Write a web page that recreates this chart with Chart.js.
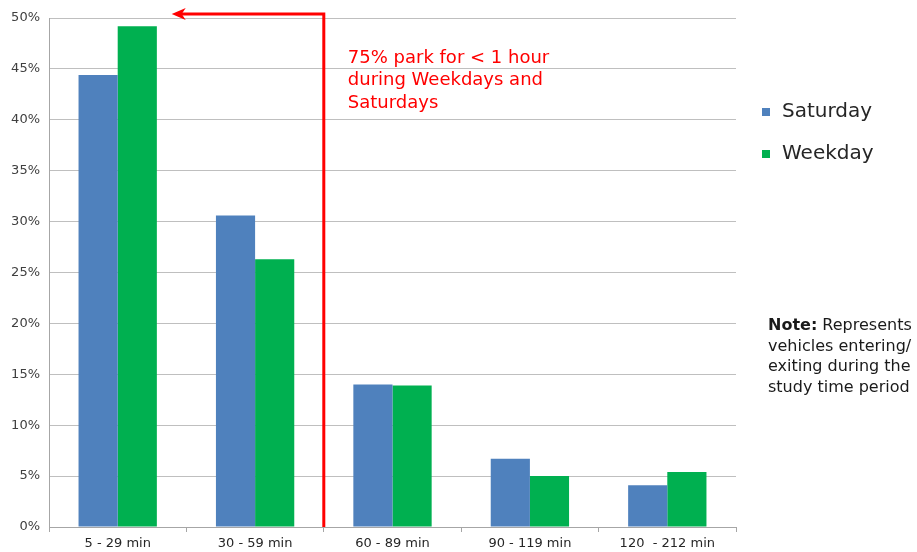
<!DOCTYPE html>
<html>
<head>
<meta charset="utf-8">
<script src="https://cdn.jsdelivr.net/npm/chart.js@4/dist/chart.umd.min.js"></script>
<style>
  html, body { margin: 0; padding: 0; background: #ffffff; }
  #wrap { width: 917px; height: 552px; position: relative; }
</style>
</head>
<body>
<div id="wrap"><canvas id="c" width="917" height="552"></canvas></div>
<script>
// Parking duration distribution (% of vehicles)
const categories = ['5 - 29 min', '30 - 59 min', '60 - 89 min', '90 - 119 min', '120  - 212 min'];
const saturday = [44.4, 30.6, 14.0, 6.7, 4.1];
const weekday = [49.2, 26.3, 13.9, 5.0, 5.4];
const yTicks = [0, 5, 10, 15, 20, 25, 30, 35, 40, 45, 50];

const calloutLines = ['75% park for < 1 hour', 'during Weekdays and', 'Saturdays'];
const noteLines = [['Note:', ' Represents'], ['', 'vehicles entering/'], ['', 'exiting during the'], ['', 'study time period']];

const FONT = '"DejaVu Sans", Verdana, sans-serif';

// Red bracket arrow from the 1-hour boundary back to the first group, plus text blocks
const annotations = {
  id: 'annotations',
  afterDraw(chart) {
    const ctx = chart.ctx;
    const x = chart.scales.x;
    const area = chart.chartArea;
    const boundary = (x.getPixelForValue(1) + x.getPixelForValue(2)) / 2;
    const topY = area.top - 4;
    const tipX = x.getPixelForValue(0) + 54;

    ctx.save();
    ctx.strokeStyle = '#ff0000';
    ctx.fillStyle = '#ff0000';
    ctx.lineWidth = 3;
    ctx.beginPath();
    ctx.moveTo(boundary, area.bottom);
    ctx.lineTo(boundary, topY);
    ctx.lineTo(tipX + 8, topY);
    ctx.stroke();
    // arrow head
    ctx.beginPath();
    ctx.moveTo(tipX, topY);
    ctx.lineTo(tipX + 14, topY - 6);
    ctx.lineTo(tipX + 10, topY);
    ctx.lineTo(tipX + 14, topY + 6);
    ctx.closePath();
    ctx.fill();

    // callout text
    ctx.font = '18px ' + FONT;
    ctx.textBaseline = 'middle';
    ctx.textAlign = 'left';
    calloutLines.forEach((t, i) => ctx.fillText(t, boundary + 24, 58 + i * 22.5));

    // legend
    const legendY = [112, 154];
    chart.data.datasets.forEach((ds, i) => {
      ctx.fillStyle = ds.backgroundColor;
      ctx.fillRect(762, legendY[i] - 4, 8, 8);
      ctx.fillStyle = '#262626';
      ctx.font = '20px ' + FONT;
      ctx.fillText(ds.label, 782, legendY[i]);
    });

    // note
    noteLines.forEach((parts, i) => {
      const y = 326 + i * 20.5;
      let cx = 768;
      ctx.fillStyle = '#1a1a1a';
      if (parts[0]) {
        ctx.font = 'bold 16px ' + FONT;
        ctx.fillText(parts[0], cx, y);
        cx += ctx.measureText(parts[0]).width;
      }
      ctx.font = '16px ' + FONT;
      ctx.fillText(parts[1], cx, y);
    });
    ctx.restore();
  }
};

new Chart(document.getElementById('c'), {
  type: 'bar',
  data: {
    labels: categories,
    datasets: [
      { label: 'Saturday', data: saturday, backgroundColor: '#4F81BD', borderWidth: 0 },
      { label: 'Weekday', data: weekday, backgroundColor: '#00B050', borderWidth: 0 }
    ]
  },
  options: {
    responsive: false,
    animation: false,
    devicePixelRatio: 1,
    layout: { padding: { top: 18, right: 181, left: 0, bottom: 0 } },
    plugins: { legend: { display: false }, tooltip: { enabled: false } },
    datasets: { bar: { categoryPercentage: 0.57, barPercentage: 1.0 } },
    scales: {
      x: {
        afterFit(s) { s.height = 25; },
        grid: { display: true, drawOnChartArea: false, offset: true, tickLength: 5, color: '#a6a6a6' },
        border: { color: '#a6a6a6', width: 1 },
        ticks: { color: '#262626', font: { family: FONT, size: 13 }, padding: 4, maxRotation: 0 }
      },
      y: {
        min: 0,
        max: 50,
        afterFit(s) { s.width = 49; },
        afterBuildTicks(s) { s.ticks = yTicks.map(v => ({ value: v })); },
        grid: { color: '#bfbfbf', drawTicks: false, lineWidth: 1 },
        border: { color: '#a6a6a6', width: 1 },
        ticks: { color: '#404040', font: { family: FONT, size: 13 }, padding: 9, callback: v => v + '%' }
      }
    }
  },
  plugins: [annotations]
});
</script>
</body>
</html>
